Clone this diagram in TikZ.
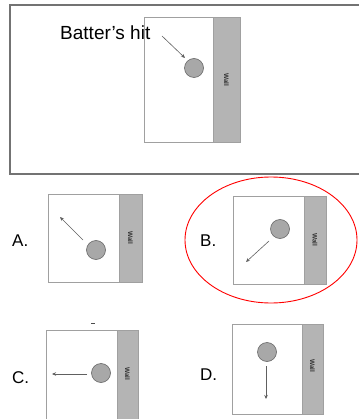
\documentclass[tikz,border=0pt]{standalone}
\usepackage{fontspec}
\setmainfont{Liberation Sans}
\usetikzlibrary{arrows.meta}
\definecolor{wallgray}{HTML}{B4B4B4}
\definecolor{ballgray}{HTML}{A8A8A8}
\definecolor{edgegray}{HTML}{A0A0A0}
\definecolor{arrowgray}{HTML}{606060}
\tikzset{
  field/.style={draw=edgegray, line width=0.8pt, fill=white},
  wallbox/.style={draw=edgegray, line width=0.8pt, fill=wallgray},
  walltext/.style={font=\fontsize{6.5}{6.5}\selectfont\bfseries, text=black!80, rotate=-90, inner sep=0pt},
  ball/.style={circle, draw=gray!80!black, line width=0.6pt, fill=ballgray, minimum size=19pt, inner sep=0pt},
  move/.style={draw=arrowgray, line width=0.6pt, -{Stealth[length=4pt,width=3.5pt]}},
  option/.style={font=\fontsize{17}{17}\selectfont, inner sep=0pt},
}
\begin{document}
\begin{tikzpicture}[x=1pt,y=-1pt]
\useasboundingbox (0,0) rectangle (358,419);
% outer frame (right edge off the picture)
\draw[draw=gray!90!black, line width=1.6pt] (359,5) -- (10,5) -- (10,174) -- (359,174);

% ---- top diagram ----
\draw[field] (144,17) rectangle (213,142);
\draw[wallbox] (213,17) rectangle (240,142);
\node[walltext] (wt0) at (226.5,80) {Wall};
\node[ball] (b0) at (194,68) {};
\node[font=\fontsize{19}{19}\selectfont, inner sep=0pt, anchor=west] (hit) at (60,33) {Batter's hit};
\coordinate (h0) at (162,36);
\coordinate (h1) at (185,58);
\draw[move] (h0) -- (h1);

% ---- A ----
\node[option, anchor=west] (la) at (12,241) {A.};
\draw[field] (48,194) rectangle (119,282);
\draw[wallbox] (119,194) rectangle (142,282);
\node[walltext] (wta) at (130.5,238) {Wall};
\node[ball] (ba) at (96,250) {};
\coordinate (sa) at (83,240);
\coordinate (ea) at (60,217);
\draw[move] (sa) -- (ea);

% ---- B ----
\node[option, anchor=west] (lb) at (200,241) {B.};
\draw[field] (233,196) rectangle (304,284);
\draw[wallbox] (304,196) rectangle (326,284);
\node[walltext] (wtb) at (315,240) {Wall};
\node[ball] (bb) at (280,229) {};
\coordinate (sb) at (269,241);
\coordinate (eb) at (246,262);
\draw[move] (sb) -- (eb);
\draw[red, line width=0.9pt] (271,240) ellipse [x radius=86, y radius=63];

% ---- C ----
\node[option, anchor=west] (lc) at (12,378) {C.};
\draw[field] (46,330) rectangle (117,420);
\draw[wallbox] (117,330) rectangle (138,420);
\node[walltext] (wtc) at (127.5,374) {Wall};
\node[ball] (bc) at (101,373) {};
\coordinate (sc) at (87,374);
\coordinate (ec) at (52,374);
\draw[move] (sc) -- (ec);
\draw[black!70, line width=1pt] (91,323) -- (95,323);

% ---- D ----
\node[option, anchor=west] (ld) at (200,375) {D.};
\draw[field] (232,324) rectangle (302,414);
\draw[wallbox] (302,324) rectangle (323,414);
\node[walltext] (wtd) at (312.5,366) {Wall};
\node[ball] (bd) at (267,352) {};
\coordinate (sd) at (266,366);
\coordinate (ed) at (266,399);
\draw[move] (sd) -- (ed);
\end{tikzpicture}
\end{document}
